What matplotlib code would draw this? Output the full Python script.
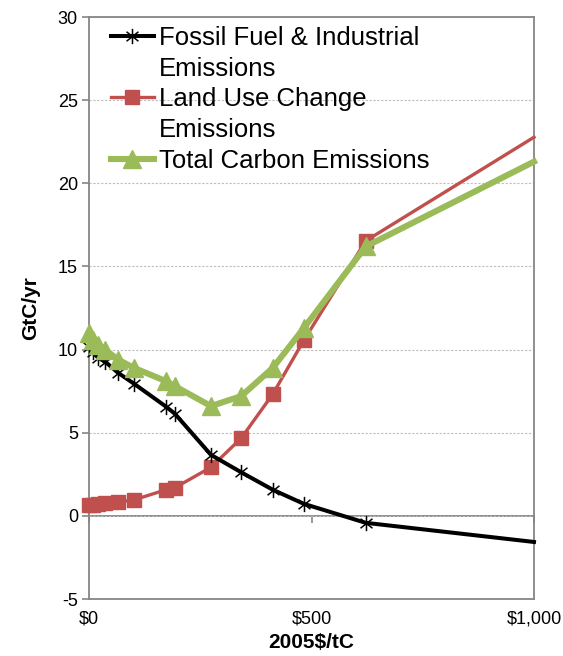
import matplotlib
matplotlib.use('Agg')
import matplotlib.pyplot as plt
from matplotlib.path import Path
from matplotlib.lines import Line2D

plt.rcParams['font.family'] = ['Liberation Sans', 'DejaVu Sans']
plt.rcParams['axes.unicode_minus'] = False

# ---- data ----
price = [0, 8, 20, 36, 65, 101, 173, 193, 274, 342, 413, 483, 622, 1000]
fossil = [10.18, 9.88, 9.52, 9.28, 8.61, 7.95, 6.57, 6.14, 3.67, 2.62, 1.57, 0.72, -0.42, -1.57]
land = [0.66, 0.68, 0.72, 0.76, 0.82, 0.96, 1.57, 1.69, 2.92, 4.67, 7.32, 10.57, 16.54, 22.77]
total = [11.0, 10.6, 10.3, 10.0, 9.4, 8.9, 8.1, 7.8, 6.6, 7.2, 8.9, 11.3, 16.2, 21.3]

xticks = [0, 500, 1000]
xticklabels = ['$0', '$500', '$1,000']
yticks = [-5, 0, 5, 10, 15, 20, 25, 30]

series_labels = ['Fossil Fuel & Industrial', 'Emissions',
                 'Land Use Change', 'Emissions',
                 'Total Carbon Emissions']

BLACK = '#000000'
RED = '#C0504D'
GREEN = '#9BBB59'
FRAME = '#868686'

# Excel-like star marker (vertical line + X)
star = Path([(0, -1), (0, 1), (-0.78, -0.62), (0.78, 0.62), (-0.78, 0.62), (0.78, -0.62)],
            [Path.MOVETO, Path.LINETO, Path.MOVETO, Path.LINETO, Path.MOVETO, Path.LINETO])

fig = plt.figure(figsize=(5.63, 6.56), dpi=100)
ax = fig.add_axes([89 / 563, 1 - 599 / 656, 445 / 563, 582 / 656])

marks = list(range(len(price) - 1))

ax.plot(price, land, color=RED, lw=2.4, marker='s', ms=10, mfc=RED, mec=RED,
        markevery=marks, clip_on=False, zorder=3)
ax.plot(price, fossil, color=BLACK, lw=2.9, marker=star, ms=11, mfc='none', mec=BLACK,
        mew=1.1, markevery=marks, clip_on=False, zorder=4)
ax.plot(price, total, color=GREEN, lw=4.4, marker='^', ms=13, mfc=GREEN, mec=GREEN,
        markevery=marks, clip_on=False, zorder=5)

ax.set_xlim(0, 1000)
ax.set_ylim(-5, 30)
ax.set_yticks(yticks)
ax.set_xticks(xticks)
ax.set_xticklabels(xticklabels)
ax.tick_params(axis='x', length=0, pad=8, labelsize=13)
ax.tick_params(axis='y', direction='out', length=5, width=1.2, color=FRAME, pad=3, labelsize=13)

ax.yaxis.grid(True, color='#BDBDBD', lw=0.8, linestyle=(0, (2, 1.5)))
ax.set_axisbelow(True)

for sp in ax.spines.values():
    sp.set_color(FRAME)
    sp.set_linewidth(1.3)

# horizontal axis crossing at y = 0
sec = ax.secondary_xaxis(0, transform=ax.transData)
sec.set_xticks(xticks)
sec.set_xticklabels(['', '', ''])
sec.tick_params(axis='x', direction='out', length=5, width=1.2, color=FRAME)
sec.spines['bottom'].set_color(FRAME)
sec.spines['bottom'].set_linewidth(1.3)

ax.set_ylabel('GtC/yr', fontsize=15, fontweight='bold', va='center')
ax.yaxis.set_label_coords(-0.132, 0.5)
ax.set_xlabel('2005$/tC', fontsize=15, fontweight='bold', va='center')
ax.xaxis.set_label_coords(0.5, -0.074)

blank = Line2D([], [], color='none')
handles = [
    Line2D([], [], color=BLACK, lw=2.9, marker=star, ms=11, mfc='none', mec=BLACK, mew=1.1),
    blank,
    Line2D([], [], color=RED, lw=2.4, marker='s', ms=10, mfc=RED, mec=RED),
    blank,
    Line2D([], [], color=GREEN, lw=4.4, marker='^', ms=13, mfc=GREEN, mec=GREEN),
]
fig.legend(handles, series_labels, loc='upper left',
           bbox_to_anchor=(111 / 563, 1 - 26 / 656), bbox_transform=fig.transFigure,
           frameon=False, fontsize=18.5, borderpad=0, borderaxespad=0,
           handlelength=1.67, handletextpad=0.2, labelspacing=0.26, numpoints=1)

fig.savefig('out.png', dpi=100)
